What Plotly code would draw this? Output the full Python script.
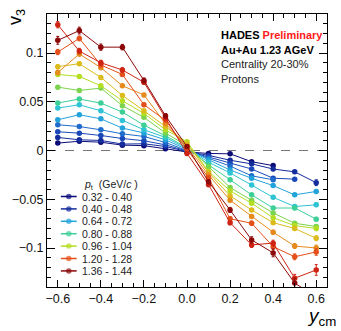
import plotly.graph_objects as go

# ---------------- data ----------------
y_cm = [-0.6, -0.5, -0.4, -0.3, -0.2, -0.1, 0.0, 0.1, 0.2, 0.3, 0.4, 0.5, 0.6]

pt_bins = ["0.32 - 0.40", "0.40 - 0.48", "0.48 - 0.56", "0.56 - 0.64", "0.64 - 0.72",
           "0.72 - 0.80", "0.80 - 0.88", "0.88 - 0.96", "0.96 - 1.04", "1.04 - 1.12",
           "1.12 - 1.20", "1.20 - 1.28", "1.28 - 1.36", "1.36 - 1.44"]
legend_bins = ["0.32 - 0.40", "0.40 - 0.48", "0.64 - 0.72", "0.80 - 0.88",
               "0.96 - 1.04", "1.20 - 1.28", "1.36 - 1.44"]

v3_032_040 = [0.0076, 0.0095, 0.0085, 0.0055, 0.0050, 0.0017, -0.0015, -0.0030, -0.0034, -0.0115, -0.0155, None, None]
v3_040_048 = [0.0134, 0.0110, 0.0103, 0.0066, 0.0069, 0.0041, -0.0010, -0.0050, -0.0100, -0.0137, -0.0190, -0.0219, -0.0330]
v3_048_056 = [0.0192, 0.0178, 0.0154, 0.0123, 0.0100, 0.0058, -0.0005, -0.0065, -0.0130, -0.0190, -0.0284, -0.0294, None]
v3_056_064 = [0.0264, 0.0246, 0.0212, 0.0171, 0.0144, 0.0082, 0.0000, -0.0080, -0.0160, -0.0260, -0.0300, None, None]
v3_064_072 = [0.0315, 0.0367, 0.0325, 0.0230, 0.0180, 0.0110, 0.0010, -0.0095, -0.0200, -0.0285, -0.0360, -0.0455, -0.0420]
v3_072_080 = [0.0435, 0.0469, 0.0407, 0.0308, 0.0213, 0.0134, 0.0020, -0.0120, -0.0230, -0.0355, -0.0480, -0.0575, -0.0557]
v3_080_088 = [0.0487, 0.0528, 0.0486, 0.0394, 0.0260, 0.0151, 0.0030, -0.0147, -0.0300, -0.0455, -0.0590, -0.0590, -0.0704]
v3_088_096 = [0.0650, 0.0616, 0.0640, 0.0460, 0.0340, 0.0179, 0.0050, -0.0170, -0.0380, -0.0510, -0.0640, -0.0746, -0.0780]
v3_096_104 = [0.0780, 0.0760, 0.0664, 0.0510, 0.0380, 0.0213, 0.0090, -0.0215, -0.0414, -0.0540, -0.0690, -0.0770, -0.0800]
v3_104_112 = [0.0860, 0.0890, 0.0750, 0.0565, 0.0408, 0.0247, 0.0070, -0.0226, -0.0465, -0.0610, -0.0740, -0.0800, -0.0900]
v3_112_120 = [0.0800, 0.0990, 0.0850, 0.0664, 0.0570, 0.0275, 0.0040, -0.0250, -0.0510, -0.0678, -0.0838, -0.0980, -0.1000]
v3_120_128 = [0.1010, 0.1150, 0.0877, 0.0780, 0.0470, 0.0310, 0.0010, -0.0280, -0.0700, -0.0746, -0.0986, -0.1090, -0.1040]
v3_128_136 = [0.1290, 0.1020, 0.0900, 0.0826, 0.0700, 0.0333, -0.0030, -0.0350, -0.0740, -0.0968, -0.0950, -0.1310, -0.1225]
v3_136_144 = [0.1130, 0.1230, 0.1060, 0.1060, 0.0719, 0.0356, 0.0040, -0.0320, -0.0610, -0.0917, -0.1050, -0.1360, -0.1500]

err_032_040 = [0.0008, 0.0008, 0.0008, 0.0008, 0.0008, 0.0008, 0.0008, 0.0008, 0.0009, 0.0010, 0.0012, None, None]
err_040_048 = [0.0009, 0.0009, 0.0008, 0.0008, 0.0008, 0.0008, 0.0008, 0.0008, 0.0009, 0.0010, 0.0012, 0.0014, 0.0030]
err_048_056 = [0.0010, 0.0009, 0.0009, 0.0009, 0.0008, 0.0008, 0.0008, 0.0008, 0.0009, 0.0010, 0.0012, 0.0014, None]
err_056_064 = [0.0011, 0.0010, 0.0010, 0.0009, 0.0009, 0.0008, 0.0008, 0.0009, 0.0010, 0.0011, 0.0013, None, None]
err_064_072 = [0.0012, 0.0011, 0.0010, 0.0010, 0.0009, 0.0009, 0.0009, 0.0009, 0.0010, 0.0011, 0.0013, 0.0015, 0.0018]
err_072_080 = [0.0013, 0.0012, 0.0011, 0.0010, 0.0010, 0.0009, 0.0009, 0.0010, 0.0011, 0.0012, 0.0014, 0.0016, 0.0018]
err_080_088 = [0.0014, 0.0013, 0.0012, 0.0011, 0.0010, 0.0010, 0.0010, 0.0010, 0.0011, 0.0012, 0.0014, 0.0016, 0.0018]
err_088_096 = [0.0016, 0.0015, 0.0013, 0.0012, 0.0011, 0.0010, 0.0010, 0.0011, 0.0012, 0.0013, 0.0015, 0.0017, 0.0020]
err_096_104 = [0.0018, 0.0016, 0.0015, 0.0013, 0.0012, 0.0011, 0.0011, 0.0012, 0.0013, 0.0014, 0.0016, 0.0019, 0.0022]
err_104_112 = [0.0020, 0.0018, 0.0016, 0.0015, 0.0013, 0.0012, 0.0012, 0.0013, 0.0014, 0.0016, 0.0018, 0.0021, 0.0025]
err_112_120 = [0.0023, 0.0021, 0.0019, 0.0017, 0.0015, 0.0014, 0.0013, 0.0014, 0.0016, 0.0018, 0.0021, 0.0025, 0.0030]
err_120_128 = [0.0027, 0.0024, 0.0022, 0.0020, 0.0018, 0.0016, 0.0015, 0.0016, 0.0019, 0.0022, 0.0025, 0.0030, 0.0035]
err_128_136 = [0.0032, 0.0028, 0.0026, 0.0023, 0.0021, 0.0018, 0.0017, 0.0019, 0.0022, 0.0026, 0.0030, 0.0040, 0.0055]
err_136_144 = [0.0040, 0.0035, 0.0032, 0.0028, 0.0025, 0.0021, 0.0020, 0.0022, 0.0026, 0.0032, 0.0040, 0.0050, 0.0060]

v3_series = [v3_032_040, v3_040_048, v3_048_056, v3_056_064, v3_064_072, v3_072_080, v3_080_088,
             v3_088_096, v3_096_104, v3_104_112, v3_112_120, v3_120_128, v3_128_136, v3_136_144]
err_series = [err_032_040, err_040_048, err_048_056, err_056_064, err_064_072, err_072_080, err_080_088,
              err_088_096, err_096_104, err_104_112, err_112_120, err_120_128, err_128_136, err_136_144]

# ---------------- style ----------------
colors = ['#0c0c78', '#142c9c', '#1a48b8', '#1f6ccc', '#23a3dc', '#2ec4d4', '#3ccf96',
          '#7ad44e', '#b4de22', '#dcbc1c', '#e68a1e', '#e5501a', '#cf2414', '#8c0808']
FONT = "Liberation Sans, Arial, Helvetica, sans-serif"

fig = go.Figure()

for label, vals, errs, col in zip(pt_bins, v3_series, err_series, colors):
    fig.add_trace(go.Scatter(
        x=y_cm, y=vals, mode="lines+markers", name=label, showlegend=False,
        line=dict(color=col, width=1),
        marker=dict(color=col, size=5.5, symbol="circle"),
        error_y=dict(type="data", array=errs, visible=True, color=col, thickness=1, width=1.5),
        connectgaps=False,
    ))

# ---- ROOT-style legend on a hidden overlay axis measured in pixels ----
LEG_X0, LEG_X1, LEG_TEXT_X = 58, 74, 77
LEG_Y0, LEG_DY = 196.5, 12.4
for i, lab in enumerate(legend_bins):
    col = colors[pt_bins.index(lab)]
    yy = LEG_Y0 + i * LEG_DY
    fig.add_trace(go.Scatter(
        x=[LEG_X0, (LEG_X0 + LEG_X1) / 2, LEG_X1], y=[yy, yy, yy], xaxis="x2", yaxis="y2",
        mode="lines+markers", showlegend=False, hoverinfo="skip",
        line=dict(color=col, width=1.5),
        marker=dict(color=col, size=[0, 5.5, 0], line=dict(width=0)),
    ))
    fig.add_annotation(x=LEG_TEXT_X, y=yy, xref="x2", yref="y2", text=lab, showarrow=False,
                       xanchor="left", yanchor="middle", font=dict(family=FONT, size=10.5, color="#222"))

fig.add_annotation(x=79, y=184.5, xref="x2", yref="y2",
                   text="<i>p</i><sub>t</sub>  (GeV/<i>c</i> )", showarrow=False,
                   xanchor="left", yanchor="middle", font=dict(family=FONT, size=10.5, color="#222"))

# ---- text block ----
fig.add_annotation(x=218, y=35, xref="x2", yref="y2",
                   text="<b>HADES <span style='color:#ff1a1a'>Preliminary</span></b>",
                   showarrow=False, xanchor="left", yanchor="middle",
                   font=dict(family=FONT, size=11, color="black"))
fig.add_annotation(x=218, y=50, xref="x2", yref="y2", text="<b>Au+Au 1.23 AGeV</b>",
                   showarrow=False, xanchor="left", yanchor="middle",
                   font=dict(family=FONT, size=11, color="black"))
fig.add_annotation(x=218, y=64, xref="x2", yref="y2", text="Centrality 20-30%",
                   showarrow=False, xanchor="left", yanchor="middle",
                   font=dict(family=FONT, size=11, color="#222"))
fig.add_annotation(x=218, y=79, xref="x2", yref="y2", text="Protons",
                   showarrow=False, xanchor="left", yanchor="middle",
                   font=dict(family=FONT, size=11, color="#222"))

# ---- axis titles (ROOT style, at the axis ends), paper coordinates ----
fig.add_annotation(x=-0.111, y=0.989, xref="paper", yref="paper", text="v<sub>3</sub>", textangle=-90,
                   showarrow=False, xanchor="center", yanchor="middle",
                   font=dict(family=FONT, size=18, color="black"))
fig.add_annotation(x=1.038, y=-0.111, xref="paper", yref="paper", text="<i>y</i><sub>cm</sub>",
                   showarrow=False, xanchor="right", yanchor="middle",
                   font=dict(family=FONT, size=19, color="black"))

# dashed zero line
fig.add_shape(type="line", xref="paper", x0=0, x1=1, yref="y", y0=0, y1=0,
              line=dict(color="#777", width=1, dash="dash"), layer="below")

fig.update_layout(
    width=341, height=331,
    margin=dict(l=44, r=14, t=14, b=44),
    paper_bgcolor="white", plot_bgcolor="white",
    font=dict(family=FONT, size=12, color="black"),
    showlegend=False,
    xaxis=dict(range=[-0.65, 0.65], dtick=0.2, tick0=0, showgrid=False, zeroline=False,
               showline=True, linecolor="black", linewidth=1, mirror="allticks",
               ticks="inside", ticklen=7, tickcolor="black", tickwidth=1,
               tickfont=dict(size=12.5, color="#111"), tickformat=".1f",
               minor=dict(dtick=0.05, ticks="inside", ticklen=4, tickcolor="black", showgrid=False)),
    yaxis=dict(range=[-0.14, 0.14], tickvals=[-0.1, -0.05, 0, 0.05, 0.1],
               ticktext=["\u22120.1", "\u22120.05", "0", "0.05", "0.1"],
               showgrid=False, zeroline=False,
               showline=True, linecolor="black", linewidth=1, mirror="allticks",
               ticks="inside", ticklen=8, tickcolor="black", tickwidth=1,
               tickfont=dict(size=12.5, color="#111"),
               minor=dict(dtick=0.01, tick0=0, ticks="inside", ticklen=4, tickcolor="black", showgrid=False)),
    xaxis2=dict(overlaying="x", range=[44, 327], visible=False, fixedrange=True),
    yaxis2=dict(overlaying="y", range=[287, 14], visible=False, fixedrange=True),
)

fig.write_html("out.html", config={"displayModeBar": False},
               post_script="document.body.style.margin='0';")
